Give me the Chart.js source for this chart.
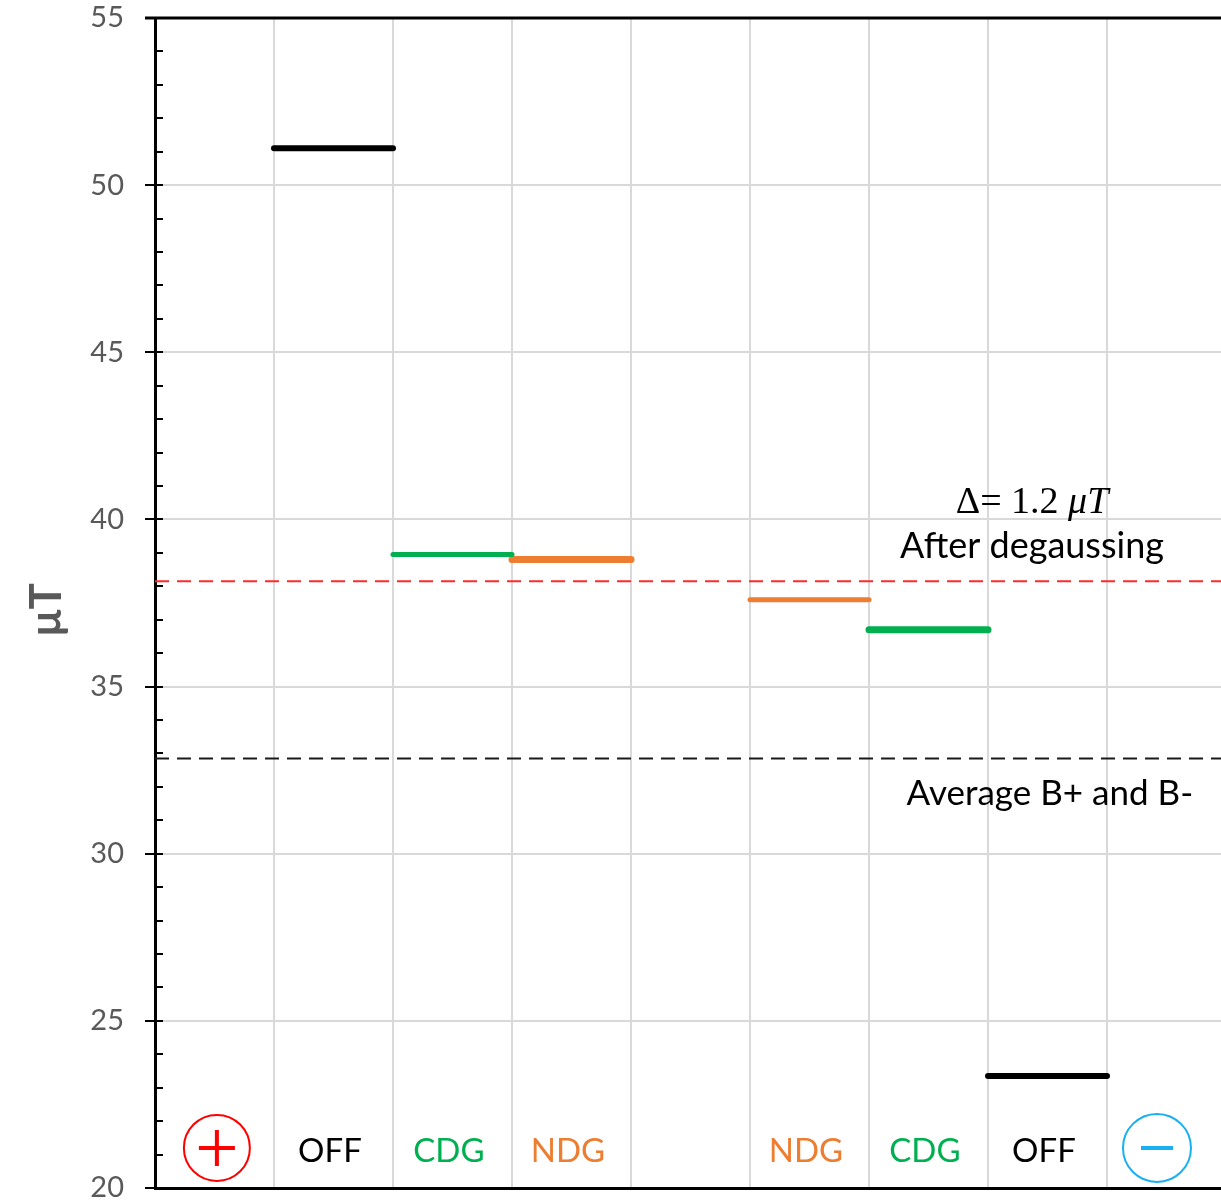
<!DOCTYPE html>
<html>
<head>
<meta charset="utf-8">
<script src="https://cdn.jsdelivr.net/npm/chart.js@4"></script>
<style>
    body { margin: 0; overflow: hidden; background: #fff; }
    #wrap { width: 1230px; height: 1203px; }
</style>
</head>
<body>
<div id="wrap"><canvas id="chart" width="1230" height="1203"></canvas></div>
<script>
// Datos del grafico
const categories = ["OFF", "CDG", "NDG", "NDG", "CDG", "OFF"];
const columns = [1, 2, 3, 5, 6, 7];
const values = [51.1, 38.95, 38.8, 37.6, 36.7, 23.35];
const colors = ["#000000", "#00b050", "#ed7d31", "#ed7d31", "#00b050", "#000000"];
const widths = [6, 5, 7, 5, 7, 6];
const afterDegaussing = 38.15;
const averageBplusBminus = 32.85;
const yTicks = [20, 25, 30, 35, 40, 45, 50, 55];

const labelFont = "Lato, 'Open Sans', sans-serif";

// Un dataset por cada segmento horizontal
const datasets = values.map((v, i) => ({
    data: [
        { x: columns[i], y: v },
        { x: columns[i] + 1, y: v },
    ],
    borderColor: colors[i],
    borderWidth: widths[i],
    borderCapStyle: "round",
    pointRadius: 0,
}));

datasets.push({
    data: [
        { x: 0, y: afterDegaussing },
        { x: 9, y: afterDegaussing },
    ],
    borderColor: "#ff2a2a",
    borderWidth: 2,
    borderDash: [14, 8],
    pointRadius: 0,
});
datasets.push({
    data: [
        { x: 0, y: averageBplusBminus },
        { x: 9, y: averageBplusBminus },
    ],
    borderColor: "#1a1a1a",
    borderWidth: 2,
    borderDash: [14, 8],
    pointRadius: 0,
});

// Dibujar marcas, titulo y textos
const extras = {
    id: "extras",
    afterDraw(chart) {
        const ctx = chart.ctx;
        const xs = chart.scales.x;
        const ys = chart.scales.y;
        const area = chart.chartArea;
        ctx.save();

        // Linea superior
        ctx.strokeStyle = "#000";
        ctx.lineWidth = 3;
        ctx.beginPath();
        ctx.moveTo(area.left - 10, area.top);
        ctx.lineTo(area.right, area.top);
        ctx.stroke();

        // Marcas del eje Y
        ctx.lineWidth = 2;
        for (let v = 20; v <= 55; v++) {
            const y = Math.round(ys.getPixelForValue(v));
            ctx.beginPath();
            ctx.moveTo(v % 5 === 0 ? area.left - 10 : area.left, y);
            ctx.lineTo(area.left + 8, y);
            ctx.stroke();
        }

        // Etiquetas del eje Y
        ctx.fillStyle = "#595959";
        ctx.font = "29px " + labelFont;
        ctx.textAlign = "right";
        ctx.textBaseline = "middle";
        yTicks.forEach((v) => {
            ctx.fillText(String(v), area.left - 31, ys.getPixelForValue(v));
        });

        // Titulo del eje Y
        ctx.save();
        ctx.translate(47, ys.getPixelForValue(37.3));
        ctx.rotate(-Math.PI / 2);
        ctx.fillStyle = "#595959";
        ctx.font = "bold 44px " + labelFont;
        ctx.textAlign = "center";
        ctx.textBaseline = "middle";
        ctx.fillText("μT", 0, 0);
        ctx.restore();

        // Etiquetas de categoria
        ctx.font = "33px " + labelFont;
        ctx.textAlign = "center";
        ctx.textBaseline = "middle";
        categories.forEach((c, i) => {
            ctx.fillStyle = colors[i];
            ctx.fillText(c, xs.getPixelForValue(columns[i] + 0.47), ys.getPixelForValue(21.1));
        });

        // Simbolos + y -
        const yc = ys.getPixelForValue(21.2);
        const xp = xs.getPixelForValue(0.52);
        const xm = xs.getPixelForValue(8.42);
        ctx.lineWidth = 2;
        ctx.strokeStyle = "#ff0000";
        ctx.beginPath();
        ctx.arc(xp, yc, 33, 0, Math.PI * 2);
        ctx.stroke();
        ctx.lineWidth = 4;
        ctx.beginPath();
        ctx.moveTo(xp - 18, yc);
        ctx.lineTo(xp + 18, yc);
        ctx.moveTo(xp, yc - 18);
        ctx.lineTo(xp, yc + 18);
        ctx.stroke();

        ctx.lineWidth = 2;
        ctx.strokeStyle = "#18b0f0";
        ctx.beginPath();
        ctx.arc(xm, yc, 34, 0, Math.PI * 2);
        ctx.stroke();
        ctx.lineWidth = 4;
        ctx.beginPath();
        ctx.moveTo(xm - 16, yc);
        ctx.lineTo(xm + 16, yc);
        ctx.stroke();

        // Textos de anotacion
        const xt = xs.getPixelForValue(7.37);
        ctx.fillStyle = "#000";
        ctx.textBaseline = "alphabetic";
        ctx.textAlign = "left";
        const partA = "Δ= 1.2 ";
        const partB = "μT";
        ctx.font = "38px 'Liberation Serif', serif";
        const wA = ctx.measureText(partA).width;
        ctx.font = "italic 38px 'Liberation Serif', serif";
        const wB = ctx.measureText(partB).width;
        const x0 = xt - (wA + wB) / 2;
        const yd = ys.getPixelForValue(40.2);
        ctx.font = "38px 'Liberation Serif', serif";
        ctx.fillText(partA, x0, yd);
        ctx.font = "italic 38px 'Liberation Serif', serif";
        ctx.fillText(partB, x0 + wA, yd);

        ctx.textAlign = "center";
        ctx.textBaseline = "middle";
        ctx.font = "36px " + labelFont;
        ctx.fillText("After degaussing", xt, ys.getPixelForValue(39.2));
        ctx.font = "35px " + labelFont;
        ctx.fillText("Average B+ and B-", xs.getPixelForValue(7.52), ys.getPixelForValue(31.8));

        ctx.restore();
    },
};

new Chart(document.getElementById("chart"), {
    type: "line",
    data: { datasets: datasets },
    options: {
        responsive: false,
        devicePixelRatio: 1,
        animation: false,
        layout: { padding: { top: 18, bottom: 15, right: 4, left: 0 } },
        plugins: {
            legend: { display: false },
            tooltip: { enabled: false },
        },
        scales: {
            x: {
                type: "linear",
                min: 0,
                max: 9,
                ticks: { display: false, stepSize: 1 },
                grid: { color: "#d9d9d9", lineWidth: 2, drawTicks: false },
                border: { color: "#000", width: 3 },
                afterFit: (scale) => {
                    scale.height = 0;
                },
            },
            y: {
                min: 20,
                max: 55,
                afterBuildTicks: (scale) => {
                    scale.ticks = yTicks.map((v) => ({ value: v }));
                },
                ticks: { display: false },
                grid: { color: "#d9d9d9", lineWidth: 2, drawTicks: false },
                border: { color: "#000", width: 3 },
                afterFit: (scale) => {
                    scale.width = 155;
                },
            },
        },
    },
    plugins: [extras],
});
</script>
</body>
</html>
